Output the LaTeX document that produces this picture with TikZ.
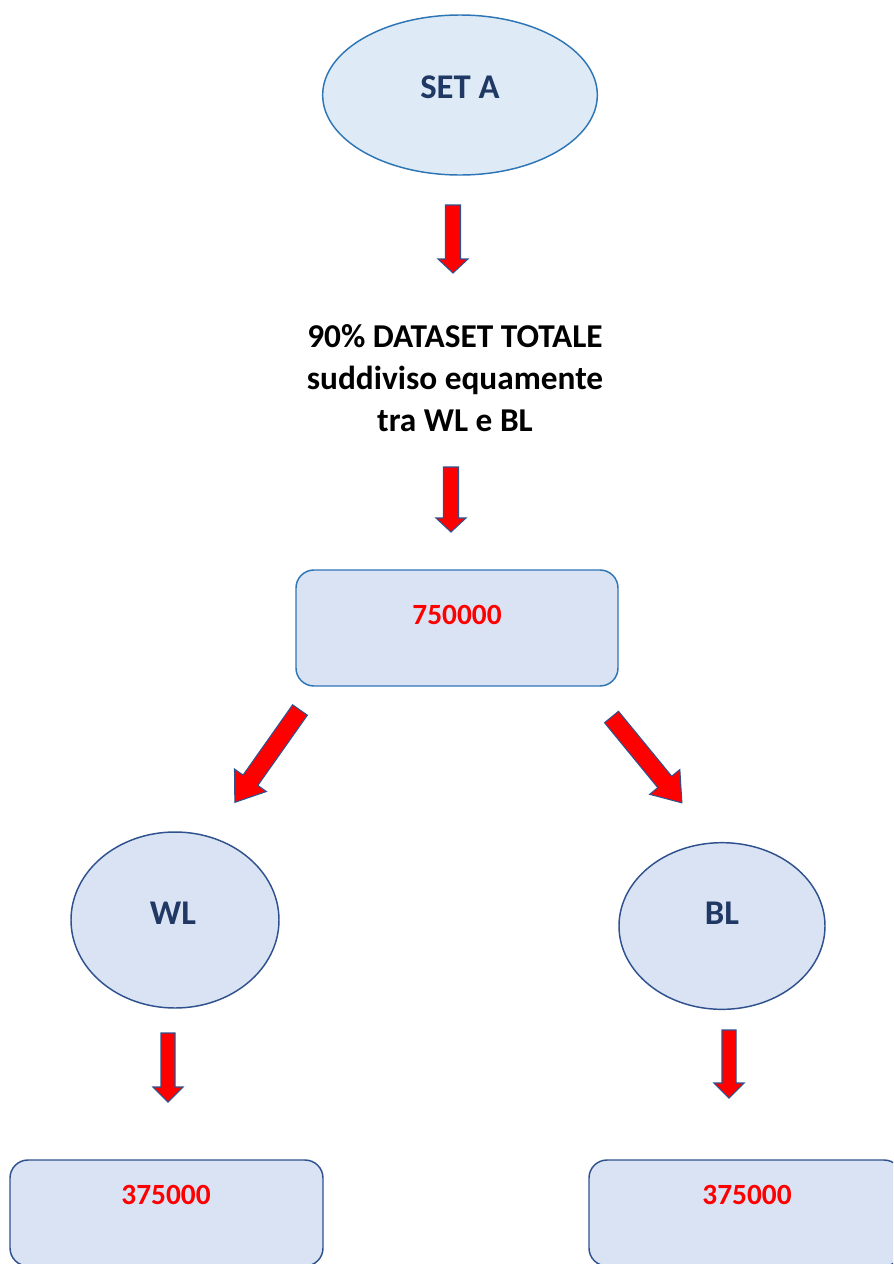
\documentclass[tikz,border=0pt]{standalone}
\usepackage{fontspec}
\setmainfont{Carlito}
\usetikzlibrary{shapes.geometric}
\definecolor{navy}{HTML}{1F3864}
\definecolor{ellfill}{HTML}{DEEBF7}
\definecolor{boxfill}{HTML}{DAE3F3}
\definecolor{brightblue}{HTML}{2E75B6}
\definecolor{darkblue}{HTML}{2F528F}
\definecolor{arrowred}{HTML}{FF0000}
\tikzset{
  pics/barrow/.style n args={4}{code={
    \path[draw=darkblue, fill=arrowred, line width=0.8pt, line join=miter]
      (-#2,0) -- (#2,0) -- (#2,#1-#3) -- (#4,#1-#3) -- (0,#1)
      -- (-#4,#1-#3) -- (-#2,#1-#3) -- cycle;
  }},
  ellbox/.style={ellipse, fill=boxfill, draw=darkblue, line width=1.1pt, inner sep=0pt},
  roundbox/.style={rectangle, rounded corners=13.5pt, fill=boxfill, line width=1.1pt, inner sep=0pt},
  navytext/.style={text=navy, font=\bfseries\fontsize{26}{30}\selectfont},
  numtext/.style={text=arrowred, font=\bfseries\fontsize{22}{26}\selectfont},
}
\begin{document}
\begin{tikzpicture}[x=0.75pt, y=-0.75pt]
\useasboundingbox (0,0) rectangle (893,1264);
\clip (0,0) rectangle (893,1264);
% top ellipse
\node[ellipse, fill=ellfill, draw=brightblue, line width=1.1pt, inner sep=0pt,
      minimum width=206pt, minimum height=120pt] (seta) at (460,95) {};
\node[navytext] (setatext) at (460,87) {SET A};
% arrow 1
\pic (a1) at (453,205) {barrow={68}{7.5}{14}{15}};
% middle text
\node[align=center, font=\bfseries\fontsize{25}{31.5}\selectfont] (mid) at (455,378)
  {90\% DATASET TOTALE\\suddiviso equamente\\tra WL e BL};
% arrow 2
\pic (a2) at (451,467) {barrow={65}{7.5}{14}{15}};
% main box
\node[roundbox, draw=brightblue, minimum width=241.5pt, minimum height=87pt] (total) at (457,628) {};
\node[numtext] (totaltext) at (457,615) {750000};
% diagonal arrows
\pic[rotate=-35.2] (a3) at (300,710) {barrow={113}{9}{27}{19.5}};
\pic[rotate=39.35] (a4) at (611.5,717) {barrow={111}{9}{27}{19.5}};
% WL / BL ellipses
\node[ellbox, minimum width=156pt, minimum height=132pt] (wl) at (175,920) {};
\node[navytext] (wltext) at (173,913) {WL};
\node[ellbox, minimum width=154.5pt, minimum height=125pt] (bl) at (722,926) {};
\node[navytext] (bltext) at (722,913) {BL};
% arrows down
\pic (a5) at (168,1033) {barrow={69}{7}{15}{15}};
\pic (a6) at (729,1030) {barrow={68}{7}{15}{15}};
% bottom boxes
\node[roundbox, draw=darkblue, minimum width=234.75pt, minimum height=79.5pt] (wlbox) at (166.5,1213) {};
\node[numtext] (wlnum) at (166,1195) {375000};
\node[roundbox, draw=darkblue, minimum width=234.75pt, minimum height=79.5pt] (blbox) at (745.5,1213) {};
\node[numtext] (blnum) at (747,1195) {375000};
\end{tikzpicture}
\end{document}
